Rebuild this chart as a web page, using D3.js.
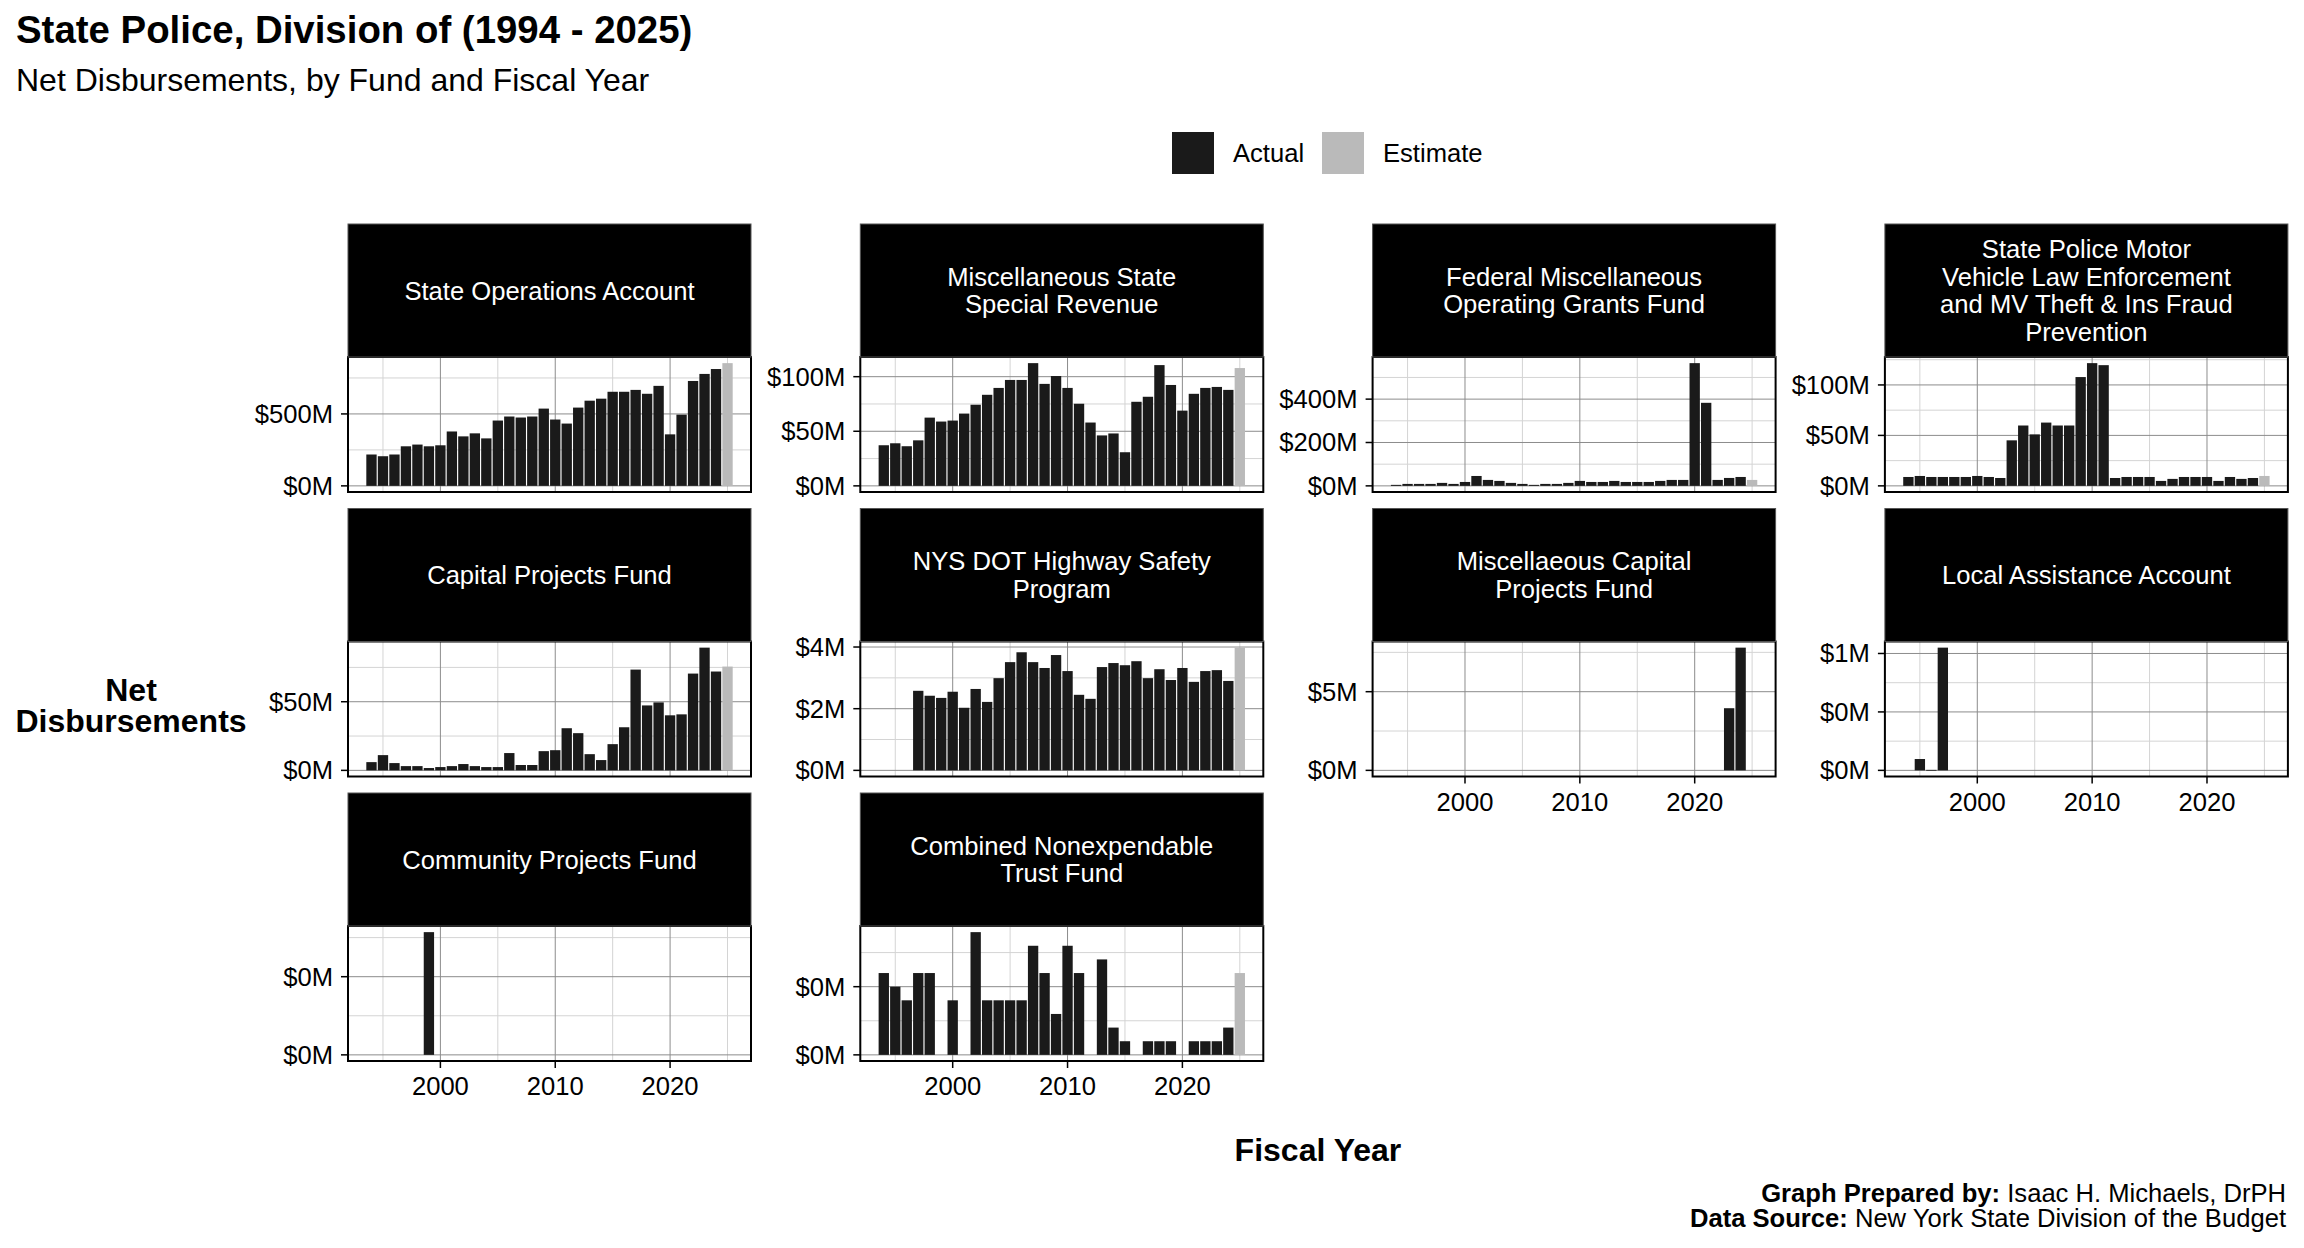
<!DOCTYPE html>
<html>
<head>
<meta charset="utf-8">
<script src="https://cdn.jsdelivr.net/npm/d3@7"></script>
<style>
  body { margin: 0; background: #fff; }
  text { font-family: "Liberation Sans", Arial, Helvetica, sans-serif; }
</style>
</head>
<body>
<script>
// fiscal years shown on every panel
var years = [1994, 1995, 1996, 1997, 1998, 1999, 2000, 2001, 2002, 2003, 2004,
             2005, 2006, 2007, 2008, 2009, 2010, 2011, 2012, 2013, 2014, 2015,
             2016, 2017, 2018, 2019, 2020, 2021, 2022, 2023, 2024, 2025];
var estimateYear = 2025;
var xTicks = [2000, 2010, 2020];
var xMinor = [1995, 2005, 2015, 2025];

// net disbursements, $ millions (null = no bar)
var stateOps = [218, 206, 218, 275, 287, 275, 282, 378, 344, 365, 330, 454, 482, 475, 482, 537,
                461, 433, 544, 592, 606, 654, 654, 667, 640, 695, 358, 495, 729, 778, 812, 853];
var miscStateSpecial = [37.2, 39, 36.3, 41.7, 62.5, 58.9, 59.8, 66.2, 74.3, 83.4, 89.7, 97, 97, 112.4, 93.4, 100.6,
                        89.7, 75.2, 58, 46.2, 48, 30.8, 77, 81.6, 110.6, 92.4, 68.9, 84.3, 89.7, 90.6, 87.9, 107.9];
var fedMiscGrants = [4.6, 9, 9, 9, 13.7, 9, 18, 45.6, 27.4, 22.8, 13.7, 9, 4.6, 9, 9, 13.7,
                     22.8, 18, 18, 22.8, 18, 18, 18, 22.8, 27.4, 27.4, 566, 383, 27.4, 36.5, 41, 27.4];
var motorVehicle = [8.8, 9.8, 8.8, 8.8, 8.8, 8.8, 9.8, 8.8, 7.8, 45.1, 59.8, 51, 62.7, 59.8, 59.8, 107.8,
                    121.6, 119.6, 7.8, 8.8, 8.8, 8.8, 4.9, 6.9, 8.8, 8.8, 8.8, 4.9, 8.8, 6.9, 7.8, 9.8];
var capitalProjects = [6, 11.1, 5.3, 3.1, 3.1, 1.7, 2.4, 3.1, 4.6, 3.1, 2.4, 2.4, 12.6, 3.9, 3.9, 14,
                       14.7, 30.7, 27.1, 11.8, 7.5, 19.1, 31.4, 73.4, 47.3, 49.5, 40.1, 40.8, 70.5, 89.4, 72, 75.6];
var nysDotHighway = [null, null, null, 2.58, 2.42, 2.35, 2.55, 2.03, 2.64, 2.22, 2.99, 3.51, 3.83, 3.51, 3.32, 3.74,
                     3.22, 2.45, 2.32, 3.35, 3.48, 3.41, 3.54, 2.99, 3.28, 2.93, 3.32, 2.87, 3.22, 3.25, 2.90, 3.98];
var miscCapital = [null, null, null, null, null, null, null, null, null, null, null, null, null, null, null, null,
                   null, null, null, null, null, null, null, null, null, null, null, null, null, 3.95, 7.8, null];
var localAssistance = [null, 0.097, 0.004, 1.05, null, null, null, null, null, null, null, null, null, null, null, null,
                       null, null, null, null, null, null, null, null, null, null, null, null, null, null, null, null];
var communityProjects = [null, null, null, null, null, 0.157, null, null, null, null, null, null, null, null, null, null,
                         null, null, null, null, null, null, null, null, null, null, null, null, null, null, null, null];
var nonexpendableTrust = [0.006, 0.005, 0.004, 0.006, 0.006, null, 0.004, null, 0.009, 0.004, 0.004, 0.004, 0.004, 0.008, 0.006, 0.003,
                          0.008, 0.006, null, 0.007, 0.002, 0.001, null, 0.001, 0.001, 0.001, null, 0.001, 0.001, 0.001, 0.002, 0.006];

var fundNames = [
  "State Operations Account",
  "Miscellaneous State\nSpecial Revenue",
  "Federal Miscellaneous\nOperating Grants Fund",
  "State Police Motor\nVehicle Law Enforcement\nand MV Theft & Ins Fraud\nPrevention",
  "Capital Projects Fund",
  "NYS DOT Highway Safety\nProgram",
  "Miscellaeous Capital\nProjects Fund",
  "Local Assistance Account",
  "Community Projects Fund",
  "Combined Nonexpendable\nTrust Fund"
];
var fundValues = [stateOps, miscStateSpecial, fedMiscGrants, motorVehicle, capitalProjects,
                  nysDotHighway, miscCapital, localAssistance, communityProjects, nonexpendableTrust];

// y breaks per fund ($M) and their labels
var yTicks = [[0, 500], [0, 50, 100], [0, 200, 400], [0, 50, 100], [0, 50],
              [0, 2, 4], [0, 5], [0, 0.5, 1], [0, 0.1], [0, 0.005]];
var yTickLabels = [["$0M", "$500M"], ["$0M", "$50M", "$100M"], ["$0M", "$200M", "$400M"],
                   ["$0M", "$50M", "$100M"], ["$0M", "$50M"], ["$0M", "$2M", "$4M"],
                   ["$0M", "$5M"], ["$0M", "$0M", "$1M"], ["$0M", "$0M"], ["$0M", "$0M"]];
var yMinor = [[250, 750], [25, 75], [100, 300, 500], [25, 75, 125], [25, 75],
              [1, 3], [2.5, 7.5], [0.25, 0.75], [0.05, 0.15], [0.0025, 0.0075]];

var width = 2304;
var height = 1248;
var ncol = 4;
var panelW = 403, panelH = 135, stripH = 133;
var left0 = 348, colStep = 512.3;
var top0 = 224, rowStep = 284.5;
var actualColor = '#1a1a1a', estimateColor = '#bababa';

var svg = d3.select('body').append('svg')
  .attr('width', width)
  .attr('height', height);

svg.append('rect').attr('width', width).attr('height', height).attr('fill', '#fff');

// titles
svg.append('text').attr('x', 16).attr('y', 43)
  .attr('font-size', 38.4).attr('font-weight', 'bold')
  .text('State Police, Division of (1994 - 2025)');
svg.append('text').attr('x', 16).attr('y', 91)
  .attr('font-size', 32)
  .text('Net Disbursements, by Fund and Fiscal Year');

// legend
var legend = [{label: 'Actual', color: actualColor, x: 1172},
              {label: 'Estimate', color: estimateColor, x: 1322}];
var lg = svg.append('g').selectAll('g').data(legend).enter().append('g');
lg.append('rect').attr('x', d => d.x).attr('y', 132).attr('width', 42).attr('height', 42)
  .attr('fill', d => d.color);
lg.append('text').attr('x', d => d.x + 61).attr('y', 162).attr('font-size', 25.6)
  .text(d => d.label);

var x = d3.scaleLinear().domain([1991.955, 2027.045]).range([0, panelW]);
var barW = x(1991.955 + 0.9) - x(1991.955);
var nPanels = fundNames.length;

fundNames.forEach(function(name, i) {
  var col = i % ncol, row = Math.floor(i / ncol);
  var px = left0 + col * colStep;
  var st = top0 + row * rowStep;
  var py = st + stripH;
  var vals = fundValues[i];
  var data = years.map((yr, j) => ({year: yr, value: vals[j]})).filter(d => d.value != null);
  var vmax = d3.max(data, d => d.value);
  var y = d3.scaleLinear().domain([-0.05 * vmax, 1.05 * vmax]).range([panelH, 0]);

  var g = svg.append('g').attr('transform', 'translate(' + px + ',' + py + ')');

  // strip
  svg.append('rect').attr('x', px).attr('y', st).attr('width', panelW).attr('height', stripH)
    .attr('fill', '#000').attr('stroke', '#555').attr('stroke-width', 1);
  var lines = name.split('\n');
  var sc = st + stripH / 2;
  svg.append('g').selectAll('text').data(lines).enter().append('text')
    .attr('x', px + panelW / 2)
    .attr('y', (d, k) => sc + 9.2 + (k - (lines.length - 1) / 2) * 27.5)
    .attr('text-anchor', 'middle').attr('fill', '#fff').attr('font-size', 25.6)
    .text(d => d);

  // grid
  var ymin = yMinor[i].filter(v => y(v) >= 0 && y(v) <= panelH);
  g.selectAll('.hmin').data(ymin).enter().append('line')
    .attr('x1', 0).attr('x2', panelW).attr('y1', d => y(d)).attr('y2', d => y(d))
    .attr('stroke', '#d4d4d4').attr('stroke-width', 1);
  g.selectAll('.vmin').data(xMinor).enter().append('line')
    .attr('y1', 0).attr('y2', panelH).attr('x1', d => x(d)).attr('x2', d => x(d))
    .attr('stroke', '#d4d4d4').attr('stroke-width', 1);
  g.selectAll('.hmaj').data(yTicks[i]).enter().append('line')
    .attr('x1', 0).attr('x2', panelW).attr('y1', d => y(d)).attr('y2', d => y(d))
    .attr('stroke', '#8c8c8c').attr('stroke-width', 1);
  g.selectAll('.vmaj').data(xTicks).enter().append('line')
    .attr('y1', 0).attr('y2', panelH).attr('x1', d => x(d)).attr('x2', d => x(d))
    .attr('stroke', '#8c8c8c').attr('stroke-width', 1);

  // bars
  g.selectAll('.bar').data(data).enter().append('rect')
    .attr('x', d => x(d.year) - barW / 2)
    .attr('width', barW)
    .attr('y', d => y(d.value))
    .attr('height', d => Math.max(0.8, y(0) - y(d.value)))
    .attr('fill', d => d.year === estimateYear ? estimateColor : actualColor);

  // border
  g.append('rect').attr('width', panelW).attr('height', panelH)
    .attr('fill', 'none').attr('stroke', '#000').attr('stroke-width', 2);

  // y axis
  g.selectAll('.yt').data(yTicks[i]).enter().append('line')
    .attr('x1', -7).attr('x2', 0).attr('y1', d => y(d)).attr('y2', d => y(d))
    .attr('stroke', '#000').attr('stroke-width', 1.5);
  g.selectAll('.yl').data(yTicks[i]).enter().append('text')
    .attr('x', -15).attr('y', d => y(d) + 9)
    .attr('text-anchor', 'end').attr('font-size', 25.6)
    .text((d, k) => yTickLabels[i][k]);

  // x axis only on the last panel of each column
  if (i + ncol >= nPanels) {
    g.selectAll('.xt').data(xTicks).enter().append('line')
      .attr('x1', d => x(d)).attr('x2', d => x(d)).attr('y1', panelH).attr('y2', panelH + 7)
      .attr('stroke', '#000').attr('stroke-width', 1.5);
    g.selectAll('.xl').data(xTicks).enter().append('text')
      .attr('x', d => x(d)).attr('y', panelH + 34)
      .attr('text-anchor', 'middle').attr('font-size', 25.6)
      .text(d => d);
  }
});

// axis titles
svg.append('text').attr('text-anchor', 'middle').attr('font-size', 32).attr('font-weight', 'bold')
  .selectAll('tspan').data(['Net', 'Disbursements']).enter().append('tspan')
  .attr('x', 131).attr('y', (d, k) => 701 + k * 31).text(d => d);
svg.append('text').attr('x', left0 + (3 * colStep + panelW) / 2).attr('y', 1161)
  .attr('text-anchor', 'middle').attr('font-size', 32).attr('font-weight', 'bold')
  .text('Fiscal Year');

// caption
var caption = [['Graph Prepared by:', ' Isaac H. Michaels, DrPH'],
               ['Data Source:', ' New York State Division of the Budget']];
caption.forEach(function(c, k) {
  var t = svg.append('text').attr('x', 2286).attr('y', 1202 + k * 25)
    .attr('text-anchor', 'end').attr('font-size', 25.6);
  t.append('tspan').attr('font-weight', 'bold').text(c[0]);
  t.append('tspan').text(c[1]);
});
</script>
</body>
</html>
